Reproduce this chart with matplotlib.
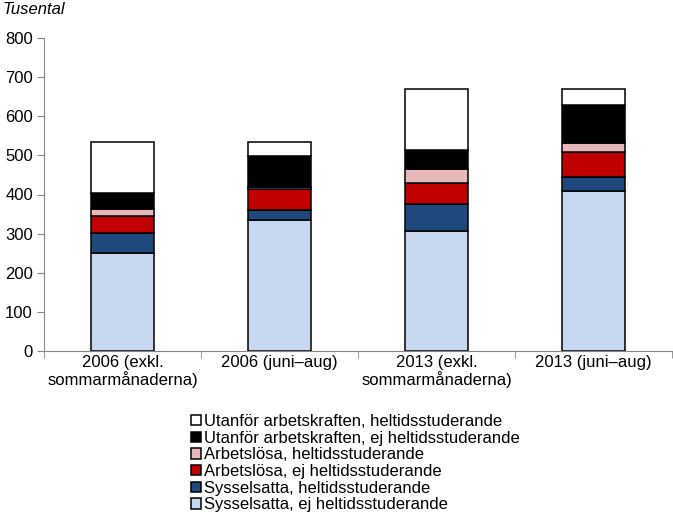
import numpy as np
import matplotlib.pyplot as plt

plt.rcParams['font.family'] = ['Liberation Sans', 'DejaVu Sans']

categories = ["2006 (exkl.\nsommarmånaderna)", "2006 (juni\u2013aug)",
              "2013 (exkl.\nsommarmånaderna)", "2013 (juni\u2013aug)"]

syss_ej = [250, 335, 306, 408]
syss_helt = [51, 25, 69, 36]
arbl_ej = [43, 53, 54, 65]
arbl_helt = [20, 7, 37, 23]
utanf_ej = [40, 78, 48, 97]
utanf_helt = [129, 35, 155, 40]

series = [
    ("Sysselsatta, ej heltidsstuderande", syss_ej, "#c6d9f1"),
    ("Sysselsatta, heltidsstuderande", syss_helt, "#1f497d"),
    ("Arbetslösa, ej heltidsstuderande", arbl_ej, "#c00000"),
    ("Arbetslösa, heltidsstuderande", arbl_helt, "#e6b9b8"),
    ("Utanför arbetskraften, ej heltidsstuderande", utanf_ej, "#000000"),
    ("Utanför arbetskraften, heltidsstuderande", utanf_helt, "#ffffff"),
]

fs = 12

fig = plt.figure(figsize=(6.73, 5.19), dpi=100)
ax = fig.add_axes([44 / 673, 1 - 351 / 519, 628 / 673, 313 / 519])

x = np.arange(len(categories))
bottom = np.zeros(len(categories))
handles = []
for label, vals, col in series:
    b = ax.bar(x, vals, 0.4, bottom=bottom, color=col, edgecolor="black",
               linewidth=1.1, label=label)
    handles.append(b)
    bottom += np.array(vals)

ax.set_xlim(-0.5, 3.5)
ax.set_ylim(0, 800)
ax.set_yticks(range(0, 801, 100))
ax.set_xticks(x)
ax.set_xticklabels(categories, fontsize=fs, linespacing=1.05)
ax.set_xticks([-0.5, 0.5, 1.5, 2.5, 3.5], minor=True)
ax.tick_params(axis="x", which="major", length=0, pad=3)
ax.tick_params(axis="x", which="minor", length=5, color="#868686", direction="out")
ax.tick_params(axis="y", length=5, color="#868686", labelsize=fs, pad=3)

for s in ["top", "right"]:
    ax.spines[s].set_visible(False)
for s in ["left", "bottom"]:
    ax.spines[s].set_color("#868686")

fig.text(3 / 673, 1 - 10 / 519, "Tusental", fontsize=fs, style="italic", va="center")

fig.legend(handles[::-1], [s[0] for s in series][::-1], loc="upper left",
           bbox_to_anchor=(191 / 673, 1 - 414 / 519), frameon=False,
           fontsize=fs, handlelength=0.6, handleheight=0.6, handletextpad=0.15,
           labelspacing=0.1, borderpad=0, borderaxespad=0)

fig.savefig("out.png", dpi=100)
